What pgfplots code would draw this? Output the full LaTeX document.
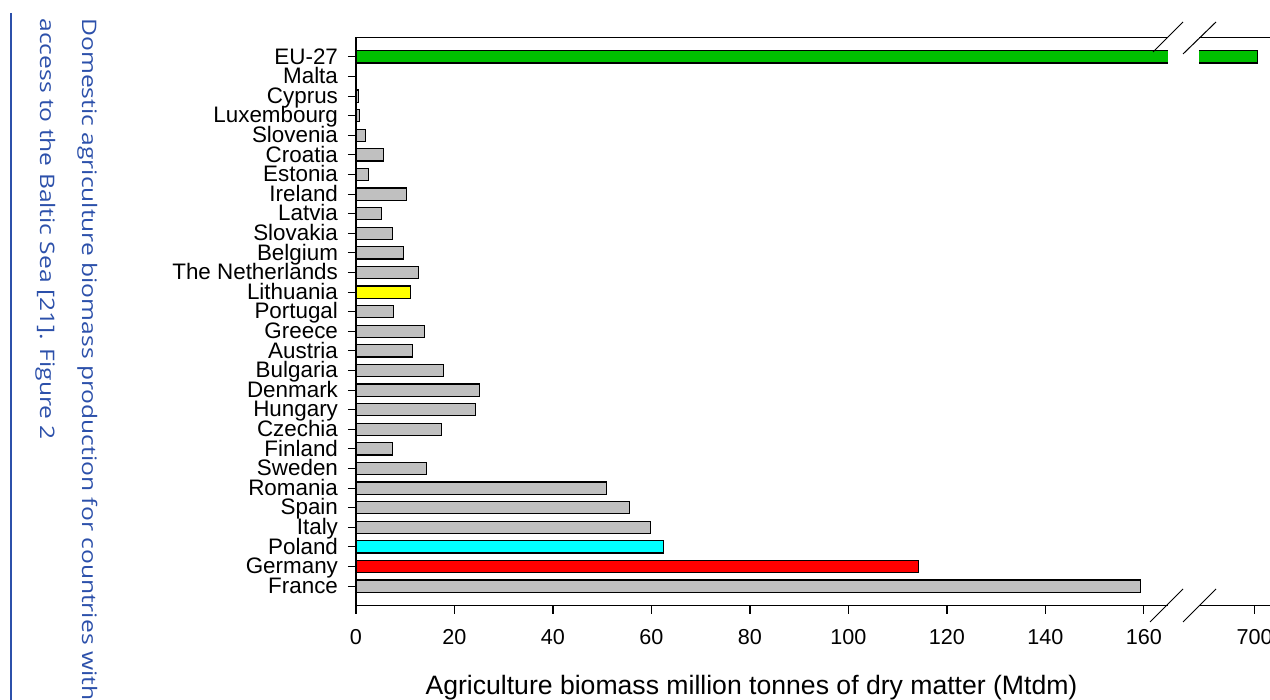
\documentclass[border=0pt]{standalone}
\usepackage{pgfplots}
\pgfplotsset{compat=1.18}
\usepackage{pgfplotstable}
\usepackage{fontspec}
\setmainfont{Liberation Sans}
\newfontfamily\capfont{Open Sans}

\definecolor{capblue}{RGB}{44,80,170}
\definecolor{barGray}{RGB}{192,192,192}
\definecolor{barGreen}{RGB}{0,192,0}
\definecolor{barRed}{RGB}{255,0,0}
\definecolor{barCyan}{RGB}{0,255,255}
\definecolor{barYellow}{RGB}{255,255,0}

% Agricultural biomass production (Mtdm); idx 0 = France (bottom) ... 27 = EU-27 (top)
\pgfplotstableread{
idx val
0  159.3
3  59.8
4  55.5
5  50.8
6  14.4
7  7.4
8  17.3
9  24.2
10 25.0
11 17.7
12 11.5
13 14.0
14 7.7
16 12.7
17 9.7
18 7.4
19 5.2
20 10.3
21 2.6
22 5.6
23 2.0
24 0.7
25 0.5
26 0.1
}\graytable
\pgfplotstableread{
idx val
27 700.6
}\eutable
% the right-hand part of the broken axis is shifted left by this amount
\def\axisgap{517.5}

\begin{document}
\begin{tikzpicture}[x=0.5pt,y=0.5pt]
\useasboundingbox (0,0) rectangle (1270,700);
\clip (0,0) rectangle (1270,700);

% caption text running down the left margin
\draw[capblue, line width=1.25pt] (11,687) -- (11,0);
\node[capblue, rotate=-90, xscale=1.23, anchor=base west, inner sep=0pt,
      font=\capfont\fontsize{10pt}{12pt}\selectfont]
  at (82,682) {Domestic agriculture biomass production for countries with};
\node[capblue, rotate=-90, xscale=1.23, anchor=base west, inner sep=0pt,
      font=\capfont\fontsize{10pt}{12pt}\selectfont]
  at (40,682) {access to the Baltic Sea [21]. Figure 2};

\begin{axis}[
  at={(178pt,47.15pt)}, anchor=south west,
  scale only axis, width=457pt, height=284.2pt,
  xmin=0, xmax=185.6, ymin=-1, ymax=28,
  axis lines*=left,
  axis line style={line width=0.65pt, black},
  tick align=outside,
  major tick length=4pt,
  tick style={line width=0.55pt, black},
  xtick={0,20,40,60,80,100,120,140,160,182.5},
  xticklabels={0,20,40,60,80,100,120,140,160,700},
  ytick={0,...,27},
  yticklabels={France,Germany,Poland,Italy,Spain,Romania,Sweden,Finland,Czechia,Hungary,Denmark,Bulgaria,Austria,Greece,Portugal,Lithuania,The Netherlands,Belgium,Slovakia,Latvia,Ireland,Estonia,Croatia,Slovenia,Luxembourg,Cyprus,Malta,EU-27},
  ticklabel style={text=black},
  xticklabel style={font=\fontsize{10.8pt}{12pt}\selectfont, yshift=-4.5pt},
  yticklabel style={font=\fontsize{11.2pt}{12pt}\selectfont,
                    text height=1.6ex, text depth=0.25ex, xshift=-1.5pt},
  /pgf/number format/assume math mode=true,
  xbar, bar width=0.62, bar shift=0pt,
  every axis plot/.append style={draw=black, line width=0.55pt},
  clip=false,
]
\addplot[fill=barGray] table[x=val, y=idx] {\graytable};
\addplot[fill=barRed] coordinates {(114.3,1)};
\addplot[fill=barCyan] coordinates {(62.5,2)};
\addplot[fill=barYellow] coordinates {(11.0,15)};
\addplot[fill=barGreen] table[x expr=\thisrow{val}-\axisgap, y=idx] {\eutable};
\draw[line width=0.65pt] (rel axis cs:0,1) -- (rel axis cs:1,1);
\end{axis}

% gap of the axis break
\fill[white] (1168,672) rectangle (1199,84);
\draw[line width=0.5pt] (1153,648) -- (1183,678);
\draw[line width=0.5pt] (1183,646) -- (1216,678);
\draw[line width=0.5pt] (1150,78) -- (1183,111);
\draw[line width=0.5pt] (1183,78) -- (1216,111);

\node[anchor=base, inner sep=0pt, font=\fontsize{13.3pt}{16pt}\selectfont]
  at (751.5,5) {Agriculture biomass million tonnes of dry matter (Mtdm)};
\end{tikzpicture}
\end{document}
